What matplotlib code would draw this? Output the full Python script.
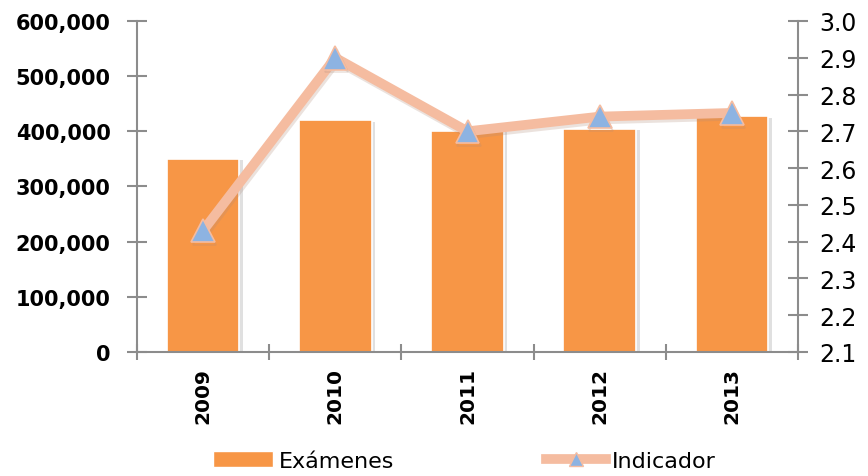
import matplotlib
matplotlib.use("Agg")
import matplotlib.pyplot as plt
import matplotlib.patheffects as pe
from matplotlib.lines import Line2D
from matplotlib.patches import Patch
from matplotlib.ticker import FuncFormatter, MultipleLocator
import numpy as np

years = ["2009", "2010", "2011", "2012", "2013"]
examenes = [350000, 420000, 401000, 405000, 427000]
indicador = [2.43, 2.90, 2.70, 2.74, 2.75]

bar_color = "#F79646"
line_color = "#F5BCA0"
marker_color = "#8DB3E2"
axis_color = "#8C8C8C"

plt.rcParams['font.family'] = ['DejaVu Sans']

fig = plt.figure(figsize=(8.68, 4.77), dpi=100)
ax = fig.add_axes([0.1578, 0.26, 0.9194 - 0.1578, 0.9539 - 0.26])
ax2 = ax.twinx()

x = np.arange(len(years))
bars = ax.bar(x, examenes, width=0.55, color=bar_color, edgecolor="white", linewidth=1.2, zorder=2,
              path_effects=[pe.SimplePatchShadow(offset=(2.5, -1), shadow_rgbFace="#bbbbbb", alpha=0.45), pe.Normal()])

ax.set_xlim(-0.5, len(years) - 0.5)
ax.set_ylim(0, 600000)
ax.yaxis.set_major_locator(MultipleLocator(100000))
ax.yaxis.set_major_formatter(FuncFormatter(lambda v, p: f"{int(v):,}"))
ax.set_xticks(x)
ax.set_xticklabels(years, rotation=90, fontweight="bold", fontsize=14.5)
ax.set_xticks(np.arange(-0.5, len(years) + 0.5, 1), minor=True)
ax.tick_params(axis="x", which="major", length=0, pad=11)
ax.tick_params(axis="x", which="minor", direction="inout", length=12, width=1.5, color=axis_color)
ax.tick_params(axis="y", direction="inout", length=14, width=1.5, color=axis_color, labelsize=15, pad=12)
for lab in ax.get_yticklabels():
    lab.set_fontweight("bold")

for s in ["top", "right"]:
    ax.spines[s].set_visible(False)
for s in ["left", "bottom"]:
    ax.spines[s].set_color(axis_color)
    ax.spines[s].set_linewidth(1.5)

ax2.plot(x, indicador, color=line_color, linewidth=7, zorder=3, solid_capstyle="round",
         marker="^", markersize=17, markerfacecolor=marker_color, markeredgecolor=line_color, markeredgewidth=1.2,
         path_effects=[pe.SimpleLineShadow(offset=(1, -2), shadow_color="#b08c7a", alpha=0.25), pe.Normal()])
ax2.set_ylim(2.1, 3.0)
ax2.yaxis.set_major_locator(MultipleLocator(0.1))
ax2.yaxis.set_major_formatter(FuncFormatter(lambda v, p: f"{v:.1f}"))
ax2.tick_params(axis="y", direction="inout", length=14, width=1.5, color=axis_color, labelsize=17, pad=8)
for s in ["top", "left", "bottom"]:
    ax2.spines[s].set_visible(False)
ax2.spines["right"].set_color(axis_color)
ax2.spines["right"].set_linewidth(1.5)

handles = [Patch(facecolor=bar_color, edgecolor="white", label="Exámenes"),
           Line2D([0], [0], color=line_color, linewidth=7, marker="^", markersize=10,
                  markerfacecolor=marker_color, markeredgecolor=line_color, label="Indicador")]
fig.legend(handles=handles, loc="center", bbox_to_anchor=(0.535, 0.032), ncol=2, frameon=False,
           fontsize=16, columnspacing=6.8, handlelength=2.7, handletextpad=0.3, borderpad=0)

fig.savefig("out.png", dpi=100)
